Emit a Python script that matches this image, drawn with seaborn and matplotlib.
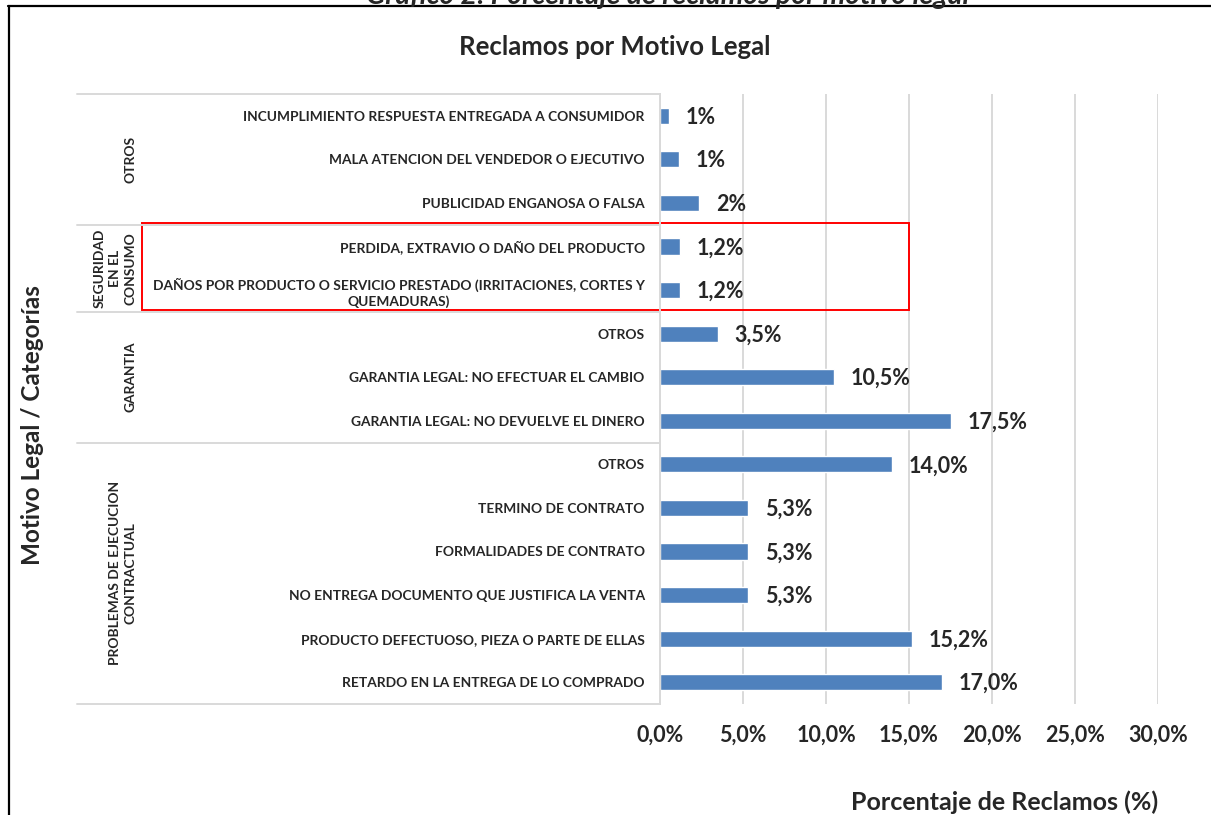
import matplotlib
matplotlib.use("Agg")
import matplotlib.pyplot as plt
from matplotlib.patches import Rectangle
from matplotlib.lines import Line2D
import seaborn as sns
import pandas as pd

# datos
grupos = (["OTROS"] * 3
          + ["SEGURIDAD\nEN EL\nCONSUMO"] * 2
          + ["GARANTIA"] * 3
          + ["PROBLEMAS DE EJECUCION\nCONTRACTUAL"] * 6)
motivos = [
    "INCUMPLIMIENTO RESPUESTA ENTREGADA A CONSUMIDOR",
    "MALA ATENCION DEL VENDEDOR O EJECUTIVO",
    "PUBLICIDAD ENGANOSA O FALSA",
    "PERDIDA, EXTRAVIO O DAÑO DEL PRODUCTO",
    "DAÑOS POR PRODUCTO O SERVICIO PRESTADO (IRRITACIONES, CORTES Y\nQUEMADURAS)",
    "OTROS",
    "GARANTIA LEGAL: NO EFECTUAR EL CAMBIO",
    "GARANTIA LEGAL: NO DEVUELVE EL DINERO",
    "OTROS",
    "TERMINO DE CONTRATO",
    "FORMALIDADES DE CONTRATO",
    "NO ENTREGA DOCUMENTO QUE JUSTIFICA LA VENTA",
    "PRODUCTO DEFECTUOSO, PIEZA O PARTE DE ELLAS",
    "RETARDO EN LA ENTREGA DE LO COMPRADO",
]
porcentajes = [0.55, 1.15, 2.35, 1.2, 1.2, 3.5, 10.5, 17.5, 14.0, 5.3, 5.3, 5.3, 15.2, 17.0]
etiquetas = ["1%", "1%", "2%", "1,2%", "1,2%", "3,5%", "10,5%", "17,5%",
             "14,0%", "5,3%", "5,3%", "5,3%", "15,2%", "17,0%"]
ticks_x = [0, 5, 10, 15, 20, 25, 30]

df = pd.DataFrame({
    "clave": [f"{g}|{m}|{i}" for i, (g, m) in enumerate(zip(grupos, motivos))],
    "grupo": grupos,
    "motivo": motivos,
    "porcentaje": porcentajes,
})

sns.set_theme(style="white")
plt.rcParams["font.family"] = ["Lato", "DejaVu Sans"]

W, H = 1211, 815
fig = plt.figure(figsize=(W / 100, H / 100), dpi=100)
ax = fig.add_axes([660 / W, 1 - 704 / H, 498 / W, 610 / H])

sns.barplot(data=df, y="clave", x="porcentaje", orient="h", color="#4F81BD",
            saturation=1, width=0.37, ax=ax)

n = len(df)
ax.set_xlim(0, 30)
ax.set_ylim(n - 0.5, -0.5)
ax.set_xticks(ticks_x)
ax.set_xticklabels([f"{v:.1f}%".replace(".", ",") for v in ticks_x],
                   fontsize=15.5, fontweight="bold")
ax.set_yticks(range(n))
ax.set_yticklabels(df["motivo"], fontsize=9.9, fontweight="bold",
                   multialignment="center", linespacing=1.3)
ax.tick_params(axis="x", length=0, pad=15)
ax.tick_params(axis="y", length=0, pad=11)
ax.set_xlabel("")
ax.set_ylabel("")

ax.grid(axis="x", color="#D9D9D9", lw=1.4)
ax.set_axisbelow(True)
for s in ["top", "right", "bottom"]:
    ax.spines[s].set_visible(False)
ax.spines["left"].set_color("#D9D9D9")
ax.spines["left"].set_linewidth(1.4)

# etiquetas de valor
for i, (v, t) in enumerate(zip(porcentajes, etiquetas)):
    ax.annotate(t, (v, i), xytext=(12, -1), textcoords="offset points",
                ha="left", va="center", fontsize=15.5, fontweight="bold")

# lineas y nombres de grupos
x_izq = -35.1
limites = [-0.5]
orden = []
for i, g in enumerate(grupos):
    if i > 0 and g != grupos[i - 1]:
        limites.append(i - 0.5)
    if g not in orden:
        orden.append(g)
limites.append(n - 0.5)
for b in limites:
    ax.plot([x_izq, 0], [b, b], color="#D9D9D9", lw=1.4, clip_on=False)
for g in orden:
    idx = [i for i, gg in enumerate(grupos) if gg == g]
    centro = sum(idx) / len(idx)
    ax.text(-31.55, centro, g, rotation=90, ha="right", va="center",
            multialignment="center", fontsize=9.9, fontweight="bold",
            linespacing=1.35, clip_on=False)

# recuadro rojo sobre seguridad en el consumo
ax.add_patch(Rectangle((-31.2, 2.45), 46.2, 2.0, fill=False, edgecolor="red",
                       lw=1.4, clip_on=False))

fig.text(615 / W, 1 - 47 / H, "Reclamos por Motivo Legal", ha="center", va="center",
         fontsize=18.5, fontweight="bold")
fig.text(33 / W, 1 - 425 / H, "Motivo Legal / Categorías", rotation=90,
         ha="center", va="center", fontsize=17.5, fontweight="bold")
fig.text(1005 / W, 1 - 802 / H, "Porcentaje de Reclamos (%)", ha="center",
         va="center", fontsize=18, fontweight="bold")
fig.text(668 / W, 1 - 4 / H, "Gráfico 2: Porcentaje de reclamos por motivo legal",
         ha="center", va="baseline", fontsize=20.5, fontweight="bold", style="italic")

# marco
fig.add_artist(Line2D([8 / W, 1], [1 - 6 / H, 1 - 6 / H], color="black", lw=1.6,
                      transform=fig.transFigure))
fig.add_artist(Line2D([9 / W, 9 / W], [0, 1 - 6 / H], color="black", lw=1.6,
                      transform=fig.transFigure))

fig.savefig("out.png", dpi=100)
